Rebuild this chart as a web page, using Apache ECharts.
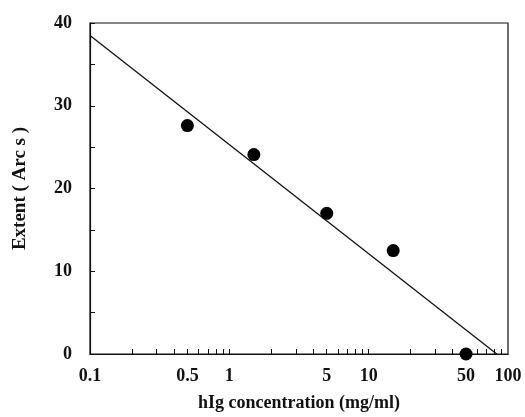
<!DOCTYPE html>
<html>
<head>
<meta charset="utf-8">
<script src="https://cdn.jsdelivr.net/npm/echarts@6/dist/echarts.min.js"></script>
<style>
  html, body { margin: 0; padding: 0; background: #fff; }
  #chart { width: 525px; height: 417px; }
</style>
</head>
<body>
<div id="chart"></div>
<script>
// measured points: hIg concentration (mg/ml) vs extent (arc s)
const conc = [0.5, 1.5, 5, 15, 50];
const extent = [27.6, 24.1, 17.0, 12.5, 0];

// fitted line end points
const fitX = [0.1, 83];
const fitY = [38.5, 0];

const xLabels = [0.1, 0.5, 1, 5, 10, 50, 100];
const xTicks = [0.2, 0.3, 0.4, 0.5, 0.6, 0.7, 0.8, 0.9, 1,
  2, 3, 4, 5, 6, 7, 8, 9, 10, 20, 30, 40, 50, 60, 70, 80, 90];

const font = 'Liberation Serif';

const chart = echarts.init(document.getElementById('chart'));

chart.setOption({
  animation: false,
  grid: {
    left: 90, right: 17, top: 23, bottom: 62,
    show: true, borderColor: '#111', borderWidth: 1.2
  },
  xAxis: {
    type: 'log',
    logBase: 10,
    min: 0.1,
    max: 100,
    name: 'hIg concentration (mg/ml)',
    nameLocation: 'middle',
    nameGap: 40,
    nameTextStyle: { fontFamily: font, fontWeight: 'bold', fontSize: 18, color: '#111' },
    axisLine: { lineStyle: { color: '#111', width: 1.2 } },
    axisTick: { inside: true, length: 5, customValues: xTicks, lineStyle: { color: '#111' } },
    minorTick: { show: false },
    splitLine: { show: false },
    axisLabel: {
      customValues: xLabels,
      formatter: v => String(v),
      margin: 13,
      fontFamily: font, fontWeight: 'bold', fontSize: 18, color: '#111'
    }
  },
  yAxis: {
    type: 'value',
    min: 0,
    max: 40,
    interval: 5,
    name: 'Extent ( Arc s )',
    nameLocation: 'middle',
    nameGap: 60,
    nameTextStyle: { fontFamily: font, fontWeight: 'bold', fontSize: 19, color: '#111' },
    axisLine: { show: true, lineStyle: { color: '#111', width: 1.2 } },
    axisTick: { show: true, inside: true, length: 5, lineStyle: { color: '#111' } },
    splitLine: { show: false },
    axisLabel: {
      formatter: v => (v % 10 === 0 ? String(v) : ''),
      margin: 18,
      fontFamily: font, fontWeight: 'bold', fontSize: 18, color: '#111'
    }
  },
  series: [
    {
      type: 'line',
      data: fitX.map((x, i) => [x, fitY[i]]),
      symbol: 'none',
      lineStyle: { color: '#111', width: 1.3 },
      z: 2
    },
    {
      type: 'scatter',
      data: conc.map((x, i) => [x, extent[i]]),
      symbol: 'circle',
      symbolSize: 13,
      itemStyle: { color: '#000', opacity: 1 },
      clip: false,
      z: 3
    }
  ]
});
</script>
</body>
</html>
